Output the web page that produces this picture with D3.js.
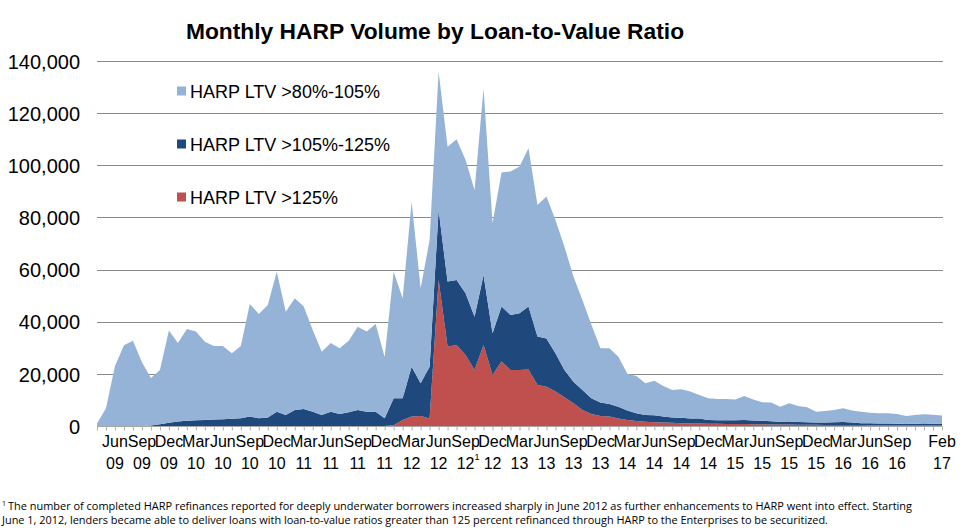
<!DOCTYPE html>
<html>
<head>
<meta charset="utf-8">
<script src="https://cdn.jsdelivr.net/npm/d3@7"></script>
<style>
  html, body { margin: 0; padding: 0; background: #fff; }
  svg { display: block; }
</style>
</head>
<body>
<svg id="chart" width="969" height="528"></svg>
<script>
// Months from Apr 2009 to Feb 2017 (95 monthly points)
const startMonth = new Date(2009, 3, 1);
const endMonth = new Date(2017, 1, 1);
const months = d3.timeMonth.range(startMonth, d3.timeMonth.offset(endMonth, 1));

// HARP LTV >80%-105%
const ltv80_105 = [
  1000, 6800, 23000, 31000, 32700, 24500, 18200, 20800, 35400, 30100,
  35200, 34000, 30000, 28200, 28100, 25100, 27700, 43200, 40000, 43100,
  53700, 39600, 42900, 39300, 31300, 24300, 26300, 25200, 27400, 32000,
  30700, 33600, 23500, 48600, 38400, 63300, 36400, 48600, 53000, 51700,
  54000, 51100, 48600, 71600, 42200, 51400, 55000, 56300, 60700, 50500,
  54400, 51100, 47300, 40300, 34500, 28200, 20800, 21400, 19200, 14100,
  14300, 12200, 13300, 11700, 10500, 10900, 10300, 9000, 8300, 8200,
  8200, 8000, 9200, 8100, 7100, 7200, 5800, 7000, 6200, 5800,
  4200, 4500, 4700, 5300, 4600, 4400, 4000, 3900, 3900, 3700,
  3000, 3300, 3500, 3400, 3200
];
// HARP LTV >105%-125%
const ltv105_125 = [
  0, 0, 0, 0, 0, 0, 200, 700, 1200, 1700,
  2000, 2200, 2300, 2500, 2600, 2800, 3000, 3600, 3000, 3300,
  5500, 4200, 6100, 6500, 5500, 4200, 5500, 4600, 5300, 6100,
  5500, 5500, 3000, 10300, 8300, 19100, 12600, 19800, 26900, 25000,
  24900, 23700, 20400, 26800, 16000, 21100, 21100, 21700, 24100, 18600,
  18500, 14700, 10500, 8300, 7700, 6000, 5200, 4800, 4500, 3600,
  3000, 2600, 2700, 2300, 2100, 2100, 1900, 1950, 1400, 1350,
  1400, 1400, 1550, 1400, 1350, 1200, 1050, 1150, 1000, 920,
  850, 870, 980, 1100, 920, 750, 770, 680, 700, 620,
  540, 650, 760, 670, 580
];
// HARP LTV >125%
const ltv125 = [
  0, 0, 0, 0, 0, 0, 0, 0, 0, 0,
  0, 0, 0, 0, 0, 0, 0, 0, 0, 0,
  0, 0, 0, 0, 0, 0, 0, 0, 0, 0,
  0, 0, 0, 300, 2300, 3600, 3800, 2900, 56000, 30400,
  31100, 27200, 21500, 31100, 19600, 24700, 21500, 21500, 21700, 15700,
  15100, 13200, 11000, 8700, 6100, 4600, 3800, 3600, 2900, 2300,
  1900, 1600, 1400, 1300, 1200, 1100, 1000, 950, 900, 850,
  800, 800, 750, 700, 650, 600, 550, 550, 500, 480,
  450, 430, 420, 400, 380, 350, 330, 320, 300, 280,
  260, 250, 240, 230, 220
];

const seriesNames = ["HARP LTV >125%", "HARP LTV >105%-125%", "HARP LTV >80%-105%"];
const seriesColors = ["#C0504D", "#1F497D", "#95B3D7"];
const legendOrder = ["HARP LTV >80%-105%", "HARP LTV >105%-125%", "HARP LTV >125%"];

const yTicks = [0, 20000, 40000, 60000, 80000, 100000, 120000, 140000];
// x-axis labels
const xLabelMonths = ["Jun","Sep","Dec","Mar","Jun","Sep","Dec","Mar","Jun","Sep","Dec","Mar","Jun","Sep","Dec","Mar","Jun","Sep","Dec","Mar","Jun","Sep","Dec","Mar","Jun","Sep","Dec","Mar","Jun","Sep","Feb"];
const xLabelYears  = ["09","09","09","10","10","10","10","11","11","11","11","12","12","12","12","13","13","13","13","14","14","14","14","15","15","15","15","16","16","16","17"];
const xLabelIndex  = [2,5,8,11,14,17,20,23,26,29,32,35,38,41,44,47,50,53,56,59,62,65,68,71,74,77,80,83,86,89,94];

const title = "Monthly HARP Volume by Loan-to-Value Ratio";
const footnote1 = "The number of completed HARP refinances reported for deeply underwater borrowers increased sharply in June 2012 as further enhancements to HARP went into effect.  Starting";
const footnote2 = "June 1, 2012, lenders became able to deliver loans with loan-to-value ratios greater than 125 percent refinanced through HARP to the Enterprises to be securitized.";

// ---- build table ----
const table = months.map((m, i) => ({
  i: i,
  "HARP LTV >125%": ltv125[i],
  "HARP LTV >105%-125%": ltv105_125[i],
  "HARP LTV >80%-105%": ltv80_105[i]
}));

const svg = d3.select("#chart");
const font = "'Liberation Sans', Arial, Helvetica, sans-serif";

const x = d3.scaleLinear().domain([0, months.length - 1]).range([97, 942]);
const y = d3.scaleLinear().domain([0, 140000]).range([426, 61]);

// Title
svg.append("text")
  .attr("x", 435).attr("y", 39)
  .attr("text-anchor", "middle")
  .attr("font-family", font).attr("font-weight", "bold").attr("font-size", 22.8)
  .attr("fill", "#000")
  .text(title);

// Gridlines
svg.append("g").selectAll("line")
  .data(yTicks.filter(d => d > 0))
  .join("line")
  .attr("x1", 97).attr("x2", 943)
  .attr("y1", d => Math.round(y(d)) + 0.5).attr("y2", d => Math.round(y(d)) + 0.5)
  .attr("stroke", "#8a8a8a").attr("stroke-width", 1);

// Y axis labels
const yAxis = d3.axisLeft(y).tickValues(yTicks).tickSize(0).tickPadding(0)
  .tickFormat(d3.format(","));
const yg = svg.append("g").attr("transform", "translate(80,0)").call(yAxis);
yg.select(".domain").remove();
yg.selectAll("text").attr("font-family", font).attr("font-size", 20).attr("fill", "#000").attr("dy", "0.36em");

// Stacked areas
const stack = d3.stack().keys(seriesNames);
const stacked = stack(table);
const area = d3.area()
  .x(d => x(d.data.i))
  .y0(d => y(d[0]))
  .y1(d => y(d[1]));

svg.append("g").selectAll("path")
  .data(stacked)
  .join("path")
  .attr("d", area)
  .attr("fill", (d, k) => seriesColors[k]);

// X axis baseline + ticks
const xAxis = d3.axisBottom(x).tickValues(d3.range(months.length)).tickSize(4).tickFormat("");
const xg = svg.append("g").attr("transform", "translate(0,426.5)").call(xAxis);
xg.select(".domain").attr("stroke", "#a6a6a6").attr("d", "M97,0H942");
xg.selectAll(".tick line").attr("stroke", "#b0b0b0");

// X labels
const xl = svg.append("g").attr("font-family", font).attr("font-size", 16).attr("fill", "#000").attr("text-anchor", "middle");
xLabelIndex.forEach((idx, k) => {
  xl.append("text").attr("x", x(idx)).attr("y", 447).text(xLabelMonths[k]);
  xl.append("text").attr("x", x(idx)).attr("y", 469).text(xLabelYears[k]);
});
// superscript 1 near Sep 12
svg.append("text").attr("x", x(41) + 9).attr("y", 460)
  .attr("font-family", font).attr("font-size", 9).attr("fill", "#000").text("1");

// Legend
const lg = svg.append("g");
legendOrder.forEach((name, k) => {
  const cy = 91 + k * 53;
  lg.append("rect").attr("x", 177).attr("y", cy - 4.5).attr("width", 9).attr("height", 9)
    .attr("fill", seriesColors[seriesNames.indexOf(name)]);
  lg.append("text").attr("x", 190).attr("y", cy + 6.5)
    .attr("font-family", font).attr("font-size", 18).attr("fill", "#000").text(name);
});

// Footnote
const fnFont = "'Open Sans', 'Noto Sans', sans-serif";
svg.append("text").attr("x", 2).attr("y", 506)
  .attr("font-family", fnFont).attr("font-size", 7).attr("fill", "#000").text("1");
svg.append("text").attr("x", 8).attr("y", 510)
  .attr("font-family", fnFont).attr("font-size", 10.5).attr("fill", "#000")
  .attr("textLength", 904).attr("lengthAdjust", "spacingAndGlyphs")
  .text(footnote1);
svg.append("text").attr("x", 2).attr("y", 524)
  .attr("font-family", fnFont).attr("font-size", 10.5).attr("fill", "#000")
  .attr("textLength", 826).attr("lengthAdjust", "spacingAndGlyphs")
  .text(footnote2);
</script>
</body>
</html>
